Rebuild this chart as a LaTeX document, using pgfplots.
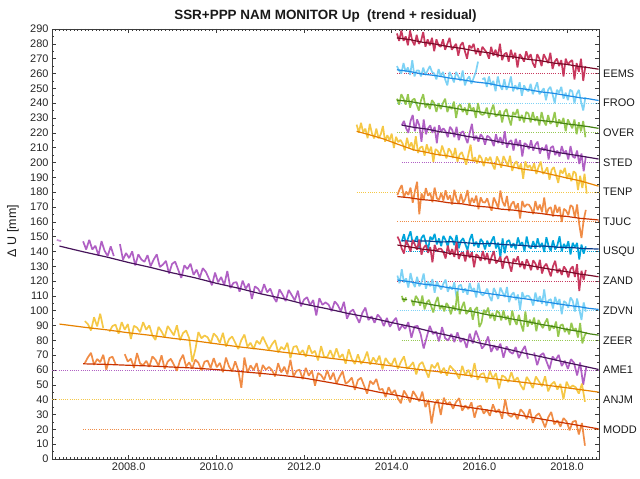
\documentclass[border=0pt]{standalone}
\usepackage{fontspec}
\setmainfont{Liberation Sans}
\usepackage{pgfplots}
\pgfplotsset{compat=1.18}
\usepackage{pgfplotstable}
\usetikzlibrary{calc}

\definecolor{cEr}{RGB}{200,56,94}   \definecolor{cEt}{RGB}{120,10,40}
\definecolor{cFr}{RGB}{125,210,245} \definecolor{cFt}{RGB}{30,140,230}
\definecolor{cOr}{RGB}{150,200,80}  \definecolor{cOt}{RGB}{70,130,20}
\definecolor{cSr}{RGB}{176,96,196}  \definecolor{cSt}{RGB}{70,20,90}
\definecolor{cTr}{RGB}{245,200,70}  \definecolor{cTt}{RGB}{230,130,0}
\definecolor{cJr}{RGB}{240,140,70}  \definecolor{cJt}{RGB}{200,50,0}
\definecolor{cUr}{RGB}{0,165,220}   \definecolor{cUt}{RGB}{10,60,140}
\definecolor{axgray}{RGB}{60,60,60}
\tikzset{lab/.style={anchor=west, inner sep=0pt, xshift=4bp, font=\fontsize{11}{13}\selectfont, text=black!90}}

% residual series (mm), sampled every 0.05 yr (short) or 0.07 yr (long)
\pgfplotstableread[header=false,row sep=\\]{287\\282\\289\\282\\285\\279\\289\\282\\279\\286\\280\\282\\288\\278\\283\\279\\284\\275\\283\\279\\278\\283\\276\\280\\284\\276\\278\\280\\272\\279\\281\\275\\270\\279\\277\\280\\273\\277\\272\\278\\276\\274\\270\\278\\272\\276\\271\\280\\269\\273\\274\\268\\276\\270\\274\\264\\273\\271\\268\\275\\270\\273\\267\\264\\273\\270\\265\\273\\270\\267\\274\\263\\268\\270\\265\\269\\258\\270\\266\\268\\269\\256\\267\\261\\270\\255\\265\\}\tEEMS
\pgfplotstableread[header=false,row sep=\\]{265\\262\\260\\267\\261\\264\\259\\269\\258\\262\\262\\258\\264\\259\\262\\265\\261\\260\\256\\263\\258\\261\\256\\252\\261\\258\\254\\261\\258\\255\\262\\252\\256\\258\\253\\257\\261\\268\\nan\\256\\257\\251\\258\\252\\255\\248\\258\\252\\249\\256\\249\\252\\258\\248\\252\\249\\254\\245\\252\\249\\248\\253\\246\\250\\254\\246\\248\\250\\242\\249\\251\\246\\240\\249\\247\\251\\243\\247\\242\\249\\248\\240\\246\\249\\241\\235\\244\\}\tFROO
\pgfplotstableread[header=false,row sep=\\]{243\\239\\246\\243\\239\\246\\237\\242\\243\\239\\235\\242\\246\\237\\240\\236\\242\\240\\234\\240\\236\\240\\243\\234\\238\\236\\241\\230\\238\\239\\234\\237\\232\\240\\235\\237\\230\\240\\233\\232\\233\\237\\230\\235\\239\\231\\232\\235\\227\\234\\236\\230\\225\\234\\232\\236\\228\\232\\227\\234\\233\\227\\234\\228\\231\\225\\234\\228\\225\\232\\226\\228\\234\\224\\229\\226\\230\\221\\229\\226\\223\\229\\219\\227\\221\\228\\217\\}\tOVER
\pgfplotstableread[header=false,row sep=\\]{225\\228\\223\\220\\228\\232\\221\\229\\225\\214\\229\\219\\223\\225\\220\\224\\213\\225\\221\\223\\221\\217\\224\\222\\217\\224\\215\\220\\221\\217\\213\\220\\226\\215\\218\\214\\219\\217\\212\\218\\217\\215\\211\\219\\213\\217\\212\\221\\210\\214\\215\\208\\216\\211\\215\\204\\213\\212\\209\\215\\208\\212\\214\\206\\210\\208\\212\\202\\210\\211\\205\\208\\204\\211\\206\\208\\202\\211\\204\\203\\208\\199\\206\\194\\204\\}\tSTED
\pgfplotstableread[header=false,row sep=\\]{225.5\\220.1\\226.7\\220.3\\222.8\\216.4\\226\\219.6\\216.2\\222.8\\216.3\\218.9\\224.5\\214\\218.4\\214.9\\219.4\\209.8\\217.3\\213.7\\215.2\\212.7\\208.1\\216.6\\210.1\\213.5\\208\\217.7\\206.4\\210.1\\210.8\\204.5\\212.2\\206.9\\210.6\\200.3\\209\\207.8\\204.5\\211.3\\207\\202.8\\209.5\\207.3\\203\\209.8\\200.5\\205.3\\207\\202.8\\198.5\\205.3\\212\\200.8\\203.5\\199.3\\205\\202.8\\197.5\\203.3\\201\\203.8\\198.5\\195.3\\204\\200.8\\196.5\\204.3\\201\\197.8\\204.5\\194.3\\199\\200.8\\195.5\\199.3\\189\\200.7\\196.4\\198.1\\194.8\\199.5\\192.2\\196.9\\200.6\\192.3\\194\\196.7\\188.4\\195.1\\196.8\\191.5\\186.2\\194.9\\192.6\\196.3\\189\\192.7\\187.3\\194\\192.7\\181.4\\191\\182.7\\192.4\\179\\}\tTENP
\pgfplotstableread[header=false,row sep=\\]{178\\181.8\\184.7\\176.5\\180.3\\178.1\\183\\172.8\\180.6\\187\\165\\179.1\\174.9\\182.7\\177.6\\179.4\\173.2\\183\\175.9\\174.7\\179.5\\174.3\\181.2\\175\\177.8\\171.6\\181.5\\175.3\\172.1\\178.9\\172.8\\175.6\\181.4\\171.2\\176.1\\172.9\\177.7\\168.5\\176.4\\173.2\\173\\175.8\\170.7\\167.5\\176.3\\173.1\\169\\181\\173.6\\170.4\\177.3\\167.1\\171.9\\173.7\\168.6\\172.4\\162.2\\174\\169.9\\171.7\\171.5\\169.3\\165.2\\174\\167.8\\171.6\\166.5\\176.3\\165.1\\168.9\\169.8\\163.6\\171.4\\166.2\\170.1\\159.9\\168.7\\167.5\\164.4\\171.2\\170\\162.8\\171.7\\158\\149\\161.1\\168\\}\tTJUC
\pgfplotstableread[header=false,row sep=\\]{146.7\\151.6\\144.6\\149.5\\153.5\\145.4\\147.3\\150.3\\142.2\\149.1\\151.1\\146\\141\\149.9\\147.8\\151.8\\144.7\\148.7\\143.6\\150.5\\147.5\\143.4\\150.3\\148.3\\144.2\\151.1\\142.1\\147\\148.9\\144.9\\140.8\\147.8\\151.7\\143.6\\146.6\\142.5\\148.4\\146.4\\141.3\\147.3\\143.2\\147.1\\150.1\\142\\145.9\\136\\148.8\\138.7\\146.7\\147.6\\142.6\\145.5\\141.4\\149.4\\144.3\\146.2\\140.2\\150.1\\143.1\\142\\146.9\\141.9\\148.8\\142.8\\145.7\\139.6\\149.6\\143.5\\140.4\\147.4\\141.3\\144.2\\150.2\\140.1\\145.1\\142\\146.9\\137.9\\145.8\\142.7\\145.7\\134.6\\144.6\\138.5\\143.4\\}\tUSQU
\pgfplotstableread[header=false,row sep=\\]{150\\147.1\\141.8\\138.6\\147.4\\144.2\\139.9\\147.7\\144.5\\141.2\\148\\137.8\\142.5\\144.3\\139.1\\142.9\\132.6\\144.4\\140.2\\141.9\\141.7\\139.5\\135.2\\144\\137.8\\141.6\\136.3\\146.1\\134.9\\138.6\\139.4\\133.2\\140.9\\135.7\\139.5\\129.3\\138\\136.8\\133.6\\140.3\\134.1\\138.9\\131.6\\136.4\\140.2\\132\\133.7\\136.5\\128.3\\135\\136.8\\131.6\\126.3\\135.1\\132.9\\136.7\\129.4\\133.2\\128\\134.7\\131.5\\127.3\\134\\131.8\\127.6\\134.4\\125.1\\129.9\\131.7\\127.4\\123.2\\130\\133.7\\125.5\\128.3\\124.1\\129.8\\127.6\\122.4\\128.1\\129.9\\122.7\\131.4\\113.2\\127\\120.8\\127.5\\}\tZAND
\pgfplotstableread[header=false,row sep=\\]{123.7\\118.5\\128\\119.1\\121.8\\115.6\\125.4\\119.2\\116\\122.8\\116.5\\119.3\\125.1\\114.9\\119.7\\116.5\\121.3\\112.1\\119.8\\116.6\\114.4\\118.2\\121\\112.8\\116.5\\114.3\\119.1\\108.9\\116.7\\117.5\\112.3\\115\\110.8\\118.6\\113.4\\115.2\\109\\118.8\\111.6\\110.3\\112.1\\114.9\\109.7\\106.5\\115.3\\112.1\\107.9\\115.6\\112.4\\109.2\\116\\105.8\\110.6\\112.4\\107.2\\110.9\\100.7\\112.5\\108.3\\110.1\\109.9\\107.7\\103.5\\112.3\\106.1\\109.8\\104.6\\114.4\\103.2\\107\\107.8\\101.6\\109.4\\104.2\\107.9\\97.7\\106.5\\105.3\\102.1\\108.9\\106.7\\99.5\\108.2\\101\\93.8\\105.6\\99.4\\}\tZDVN
\pgfplotstableread[header=false,row sep=\\]{107.5\\103.2\\110\\107.7\\103.4\\110.2\\100.9\\105.6\\107.3\\103.1\\98.8\\105.5\\109.3\\101\\103.7\\99.5\\105.2\\102.9\\97.6\\103.4\\100.1\\113\\97.6\\102.3\\106\\97.8\\99.5\\102.2\\93.9\\100.7\\102.4\\89\\91.9\\100.6\\98.3\\102.1\\94.8\\98.5\\93.2\\100\\98.7\\93.4\\100.2\\93.9\\96.6\\90.3\\100.1\\93.8\\90.5\\97.3\\91\\86\\99.5\\89.2\\93.9\\90.6\\95.4\\86.1\\93.8\\90.6\\88.3\\92\\94.7\\86.5\\90.2\\87.9\\92.7\\82.4\\90.1\\90.8\\85.6\\88.3\\84\\91.8\\86.5\\88.2\\81.9\\91.7\\78\\83.1\\85.5\\}\tZEER
\pgfplotstableread[header=false,row sep=\\]{146.8\\141.3\\147.8\\141.3\\143.8\\137.4\\146.9\\140.4\\136.9\\143.4\\136.9\\nan\\144.9\\134.4\\138.9\\135.5\\140\\130.5\\138\\134.5\\133\\137.5\\130\\134.5\\138\\129.5\\131.1\\133.6\\125.1\\131.6\\133.1\\127.6\\122.1\\130.6\\128.1\\131.7\\124.2\\127.7\\122.2\\128.7\\126.2\\121.7\\117.2\\125.7\\119.2\\122.7\\117.3\\126.8\\115.3\\118.8\\119.3\\112.8\\120.3\\114.8\\118.3\\107.9\\116.4\\114.9\\111.4\\117.9\\112.4\\114.9\\109.4\\105.9\\114.4\\110.9\\106.5\\114\\110.5\\107\\113.5\\103\\107.5\\109.1\\103.7\\107.2\\96.8\\108.4\\104\\105.6\\104.1\\99.7\\106.3\\103.9\\99.5\\106\\94.6\\99.2\\100.8\\96.3\\91.9\\98.5\\102.1\\93.7\\96.2\\91.8\\97.4\\95\\89.6\\95.1\\89.2\\92.7\\95.2\\86.7\\90.2\\87.8\\92.3\\81.8\\89.3\\89.8\\84.3\\74.5\\82.3\\89.8\\84.3\\85.9\\79.4\\88.9\\81.4\\79.9\\84.4\\78.9\\85.4\\78.9\\81.4\\75\\84.5\\78\\86.5\\81\\74.5\\77.1\\82.6\\72.2\\76.7\\73.3\\77.8\\68.3\\75.9\\72.4\\71\\75.5\\68.1\\72.6\\76.2\\67.7\\nan\\71.8\\63.3\\69.9\\71.4\\66\\60.5\\69.1\\66.6\\70.2\\62.7\\66.3\\60.8\\67.3\\64.9\\56.4\\65\\50\\62.1\\}\tAME
\pgfplotstableread[header=false,row sep=\\]{93\\90.9\\86.7\\95.6\\89.4\\98\\88.2\\nan\\85.9\\89.7\\90.6\\84.5\\92.3\\87.2\\91\\80.9\\89.8\\88.6\\85.5\\92.3\\87.2\\90.1\\83.4\\80.3\\89.1\\86\\81.9\\89.7\\86.6\\83.4\\90.2\\80.1\\84.9\\86.7\\81.5\\65.5\\73.8\\85.6\\81.4\\83.3\\82.1\\77.9\\84.7\\82.5\\78.3\\85.1\\75.9\\80.8\\82.6\\78.4\\74.2\\80.2\\83.9\\75.7\\78.4\\74.1\\79.8\\77.5\\82.5\\78\\73.7\\77.4\\80.1\\71.9\\75.6\\73.7\\78.4\\68\\75.6\\76.2\\70.8\\73.4\\69\\76.7\\71.3\\72.9\\66.5\\76.1\\68.7\\68.8\\73.4\\68\\74.6\\68.2\\70.7\\64.3\\73.9\\67.5\\64.1\\70.6\\64.2\\66.8\\72.4\\63.7\\68.4\\65\\69.7\\60.4\\68.1\\64.8\\63.5\\68.2\\60.8\\65.5\\69.2\\60.9\\62.6\\65.3\\57\\63.7\\65.4\\60.1\\54.9\\63.6\\61.3\\65\\57.7\\61.5\\56.2\\62.9\\60.6\\58.3\\54.1\\62.8\\56.5\\60.2\\54.9\\64.7\\53.4\\57.1\\57.9\\51.6\\59.4\\54.1\\57.9\\47.6\\56.4\\55.1\\51.9\\58.6\\52.4\\55.1\\49.9\\46.6\\55.4\\52.1\\47.8\\55.6\\52.3\\49.1\\55.8\\45.6\\50.3\\52.1\\46.8\\50.6\\40.3\\52.1\\47.8\\49.6\\48.3\\44.1\\50.8\\38.6\\}\tANJM
\pgfplotstableread[header=false,row sep=\\]{64.7\\68.6\\71.6\\63.5\\67.4\\65.3\\70.3\\60.2\\68.1\\69\\64\\nan\\nan\\70.7\\65.7\\67.6\\61.5\\71.4\\64.4\\63.3\\66.2\\62.2\\69.1\\67\\62.9\\69.9\\60.8\\65.7\\67.6\\63.6\\59.5\\66.4\\70.3\\62.3\\65.2\\61.1\\67\\64.9\\59.8\\65.6\\66.4\\61.3\\68.1\\61.9\\64.8\\58.6\\68.4\\62.3\\59.1\\65.9\\59.7\\48\\68.4\\58.2\\63.1\\59.9\\64.7\\55.6\\63.4\\60.2\\62.1\\59.9\\55.7\\64.6\\58.4\\62.2\\57.1\\66.9\\55.7\\59.5\\60.2\\53.8\\61.5\\56.1\\59.7\\49.4\\58\\56.6\\53.3\\59.9\\53.5\\58.2\\50.8\\55.4\\59.1\\50.7\\52.3\\54.9\\46.6\\53.2\\54.8\\49.5\\44.1\\52.7\\50.4\\54\\46.6\\47.3\\41.8\\48.4\\43.9\\46.5\\41\\37.6\\46.1\\42.7\\38.2\\45.8\\42.3\\38.9\\45.4\\35\\39.5\\24\\36.6\\40.2\\29.7\\41.3\\36.8\\38.4\\33.9\\38.5\\41\\32.6\\36.1\\33.7\\38.2\\27.8\\35.3\\35.9\\30.6\\33.3\\29.1\\36.8\\31.5\\33.5\\27.2\\40.3\\29.7\\28.4\\31.1\\26.8\\33.5\\31.2\\27\\33.7\\24.4\\29.1\\30.8\\26.5\\21.3\\28\\31.7\\23.4\\26.1\\21.8\\27.6\\25.3\\19.4\\25.1\\25.8\\16.5\\24.3\\9\\}\tMODD

\begin{document}
\begin{tikzpicture}
\begin{axis}[
  name=ax,
  width=547bp, height=430bp, scale only axis,
  xmin=2006.25, xmax=2018.73, ymin=0, ymax=290,
  clip=false,
  xtick={2008,2010,2012,2014,2016,2018},
  xticklabels={2008.0,2010.0,2012.0,2014.0,2016.0,2018.0},
  minor xtick={2006.3333,2006.4167,...,2018.72},
  ytick={0,10,...,290},
  minor ytick={5,15,...,285},
  tick align=inside,
  major tick length=4bp, minor tick length=2bp,
  every tick/.style={axgray, line width=0.5bp},
  axis line style={axgray, line width=0.6bp},
  tick label style={font=\fontsize{11}{13}\selectfont, text=black!85},
  /pgf/number format/assume math mode=true,
  title={SSR+PPP NAM MONITOR Up\ \ (trend + residual)},
  title style={font=\bfseries\fontsize{13.5}{15}\selectfont, text=black!90, yshift=-2.5bp},
  unbounded coords=jump,
  res/.style={line width=1.7bp, mark=none, line join=bevel},
  trd/.style={line width=1.2bp, mark=none},
  dot/.style={line width=0.6bp, dash pattern=on 0.6bp off 1.6bp, mark=none},
]
% dotted reference levels
\addplot[dot, cEr] coordinates {(2014.12,260)(2018.73,260)};
\addplot[dot, cFr] coordinates {(2014.12,240)(2018.73,240)};
\addplot[dot, cOr] coordinates {(2014.12,220)(2018.73,220)};
\addplot[dot, cSr] coordinates {(2014.23,200)(2018.73,200)};
\addplot[dot, cTr] coordinates {(2013.20,180)(2018.73,180)};
\addplot[dot, cJr] coordinates {(2014.13,160)(2018.73,160)};
\addplot[dot, cUr] coordinates {(2014.23,140)(2018.73,140)};
\addplot[dot, cEr] coordinates {(2014.13,120)(2018.73,120)};
\addplot[dot, cFr] coordinates {(2014.13,100)(2018.73,100)};
\addplot[dot, cOr] coordinates {(2014.23,80)(2018.73,80)};
\addplot[dot, cSr] coordinates {(2006.25,60)(2018.73,60)};
\addplot[dot, cTr] coordinates {(2006.25,40)(2018.73,40)};
\addplot[dot, cJr] coordinates {(2006.96,20)(2018.73,20)};

% EEMS
\addplot[res, cEr] table[x expr={2014.12+0.05*\coordindex}, y index=0] {\tEEMS};
\addplot[trd, cEt] coordinates {(2014.12,284)(2014.4,282.9)(2014.7,281.1)(2015.0,279.8)(2015.3,278.1)(2015.6,276.9)(2015.9,275.2)(2016.2,274.0)(2016.5,272.0)(2016.8,271.1)(2017.1,269.6)(2017.4,268.6)(2017.7,267.0)(2018.0,266.1)(2018.3,264.6)(2018.5,263.9)(2018.72,262.9)};
% FROO
\addplot[res, cFr] table[x expr={2014.12+0.05*\coordindex}, y index=0] {\tFROO};
\addplot[trd, cFt] coordinates {(2014.12,262.5)(2014.4,261.4)(2014.7,259.6)(2015.0,258.6)(2015.3,257)(2015.6,255.8)(2015.9,254.3)(2016.2,253.3)(2016.5,251.5)(2016.8,250.4)(2017.1,249.2)(2017.4,247.6)(2017.7,246.6)(2018.0,245.1)(2018.3,243.6)(2018.5,242.9)(2018.72,241.8)};
% OVER
\addplot[res, cOr] table[x expr={2014.12+0.05*\coordindex}, y index=0] {\tOVER};
\addplot[trd, cOt] coordinates {(2014.12,242)(2014.4,241.2)(2014.7,239.6)(2015.0,238.7)(2015.3,237.3)(2015.6,235.7)(2015.9,234.6)(2016.2,233.2)(2016.5,231.9)(2016.8,230.9)(2017.1,229.6)(2017.4,228.3)(2017.7,227.4)(2018.0,226)(2018.3,224.9)(2018.5,224.1)(2018.72,223)};
% STED
\addplot[res, cSr] table[x expr={2014.23+0.05*\coordindex}, y index=0] {\tSTED};
\addplot[trd, cSt] coordinates {(2014.23,225.2)(2014.5,223.7)(2014.8,222.5)(2015.1,220.7)(2015.4,219.5)(2015.7,217.7)(2016.0,216.3)(2016.3,214.8)(2016.6,213)(2016.9,211.8)(2017.2,210.1)(2017.5,208.6)(2017.8,206.7)(2018.1,205.3)(2018.4,203.9)(2018.72,202.3)};
% TENP
\addplot[res, cTr] table[x expr={2013.20+0.05*\coordindex}, y index=0] {\tTENP};
\addplot[trd, cTt] coordinates {(2013.2,221)(2013.5,218.6)(2013.8,216)(2014.1,212.7)(2014.5,208.5)(2014.75,207.1)(2015.0,205.5)(2015.3,204.3)(2015.6,202.5)(2016.0,200.5)(2016.3,199.4)(2016.6,197.8)(2017.0,195.5)(2017.3,194.3)(2017.6,192.2)(2018.0,189.5)(2018.3,187.6)(2018.72,184)};
% TJUC
\addplot[res, cJr] table[x expr={2014.13+0.05*\coordindex}, y index=0] {\tTJUC};
\addplot[trd, cJt] coordinates {(2014.13,177)(2014.4,176.2)(2014.7,174.9)(2015.0,174.2)(2015.3,172.8)(2015.6,172.1)(2015.9,170.6)(2016.2,169.9)(2016.5,168.5)(2016.8,167.8)(2017.1,166.5)(2017.4,165.6)(2017.7,164.3)(2018.0,163.6)(2018.3,162.3)(2018.5,161.8)(2018.72,161.2)};
% USQU
\addplot[res, cUr] table[x expr={2014.23+0.05*\coordindex}, y index=0] {\tUSQU};
\addplot[trd, cUt] coordinates {(2014.23,147.2)(2014.5,146.8)(2014.8,147.1)(2015.1,146.4)(2015.4,146.5)(2015.7,145.8)(2016.0,145.2)(2016.3,145.3)(2016.6,144.5)(2016.9,144.2)(2017.2,143.5)(2017.5,143.6)(2017.8,142.8)(2018.1,142.6)(2018.4,141.9)(2018.72,141.6)};
% ZAND
\addplot[res, cEr] table[x expr={2014.13+0.05*\coordindex}, y index=0] {\tZAND};
\addplot[trd, cEt] coordinates {(2014.13,144.3)(2014.4,143.1)(2014.7,141.5)(2015.0,140.5)(2015.3,138.8)(2015.6,137.5)(2015.9,136.3)(2016.2,134.9)(2016.5,133.2)(2016.8,131.9)(2017.1,130.7)(2017.4,129.1)(2017.7,127.6)(2018.0,126.3)(2018.3,124.7)(2018.5,123.9)(2018.72,122.9)};
% ZDVN
\addplot[res, cFr] table[x expr={2014.13+0.05*\coordindex}, y index=0] {\tZDVN};
\addplot[trd, cFt] coordinates {(2014.13,120.7)(2014.4,119.6)(2014.7,118)(2015.0,117.1)(2015.3,115.5)(2015.6,114.4)(2015.9,113)(2016.2,111.6)(2016.5,110.4)(2016.8,109)(2017.1,107.8)(2017.4,106.4)(2017.7,105.1)(2018.0,103.7)(2018.3,102.6)(2018.5,101.6)(2018.72,100.9)};
% ZEER
\addplot[res, cOr] coordinates {(2014.23,110)(2014.28,106)(2014.33,109)};
\addplot[res, cOr] table[x expr={2014.45+0.05*\coordindex}, y index=0] {\tZEER};
\addplot[trd, cOt] coordinates {(2014.23,108)(2014.35,107.4)};
\addplot[trd, cOt] coordinates {(2014.45,106.5)(2014.7,105.3)(2015.0,103.6)(2015.3,102.3)(2015.6,100.5)(2015.9,99.1)(2016.2,97.2)(2016.5,95.9)(2016.8,94.1)(2017.1,92.6)(2017.4,90.8)(2017.7,89.3)(2018.0,87.4)(2018.3,85.9)(2018.5,84.5)(2018.72,83.5)};
% AME1
\addplot[res, cSr!70] coordinates {(2006.36,147.8)(2006.41,147.3)(2006.46,147.0)};
\addplot[res, cSr] table[x expr={2006.96+0.07*\coordindex}, y index=0] {\tAME};
\addplot[trd, cSt] coordinates {(2006.42,143.6)(2006.7,141.6)(2007.0,139.5)(2007.5,136.2)(2008.0,132.5)(2008.5,129.2)(2009.0,125.5)(2009.5,122.3)(2010.0,118.5)(2010.5,115.2)(2011.0,111.5)(2011.5,108.3)(2012.0,104.5)(2012.5,101.5)(2013.0,98.2)(2013.5,95.4)(2014.0,92)(2014.5,88.9)(2015.0,85.2)(2015.5,82)(2016.0,78.2)(2016.5,75.1)(2017.0,71.6)(2017.5,68.4)(2018.0,65)(2018.4,62.5)(2018.72,60.4)};
% ANJM
\addplot[res, cTr] table[x expr={2007.0+0.07*\coordindex}, y index=0] {\tANJM};
\addplot[trd, cTt] coordinates {(2006.42,91)(2007.0,88.8)(2007.5,87.1)(2008.0,85.1)(2008.5,83.4)(2009.0,81.4)(2009.5,79.7)(2010.0,77.7)(2010.5,75.7)(2011.0,74)(2011.5,72.1)(2012.0,70.3)(2012.5,68.3)(2013.0,66.5)(2013.5,64.7)(2014.0,62.8)(2014.5,60.8)(2015.0,59.1)(2015.5,57.3)(2016.0,55.4)(2016.5,53.4)(2017.0,51.7)(2017.5,49.9)(2018.0,48)(2018.4,46.4)(2018.72,45.1)};
% MODD
\addplot[res, cJr] table[x expr={2007.0+0.07*\coordindex}, y index=0] {\tMODD};
\addplot[trd, cJt] coordinates {(2006.96,64.2)(2007.5,63.8)(2008.0,63.2)(2008.5,62.7)(2009.0,62)(2009.5,61.3)(2010.0,60.3)(2010.5,59.1)(2011.0,57.8)(2011.5,56.4)(2012.0,54.6)(2012.7,51)(2013.2,48.2)(2013.7,45.1)(2014.2,42.5)(2014.65,39.8)(2015.0,38.2)(2015.5,36)(2016.0,33.8)(2016.7,30.7)(2017.1,28.6)(2017.5,26.5)(2018.0,24)(2018.4,22)(2018.72,20.3)};

% station labels
\node[lab] at (axis cs:2018.73,260) {EEMS};
\node[lab] at (axis cs:2018.73,240) {FROO};
\node[lab] at (axis cs:2018.73,220) {OVER};
\node[lab] at (axis cs:2018.73,200) {STED};
\node[lab] at (axis cs:2018.73,180) {TENP};
\node[lab] at (axis cs:2018.73,160) {TJUC};
\node[lab] at (axis cs:2018.73,140) {USQU};
\node[lab] at (axis cs:2018.73,120) {ZAND};
\node[lab] at (axis cs:2018.73,100) {ZDVN};
\node[lab] at (axis cs:2018.73,80) {ZEER};
\node[lab] at (axis cs:2018.73,60) {AME1};
\node[lab] at (axis cs:2018.73,40) {ANJM};
\node[lab] at (axis cs:2018.73,20) {MODD};
\node[rotate=90, anchor=center, font=\fontsize{12.5}{14}\selectfont, text=black!90] at ([xshift=-39bp]rel axis cs:0,0.53) {Δ U [mm]};
\end{axis}
\pgfresetboundingbox
\path[use as bounding box] ($(ax.south west)+(-52bp,-20bp)$) rectangle ($(ax.north east)+(41bp,29bp)$);
\end{tikzpicture}
\end{document}
